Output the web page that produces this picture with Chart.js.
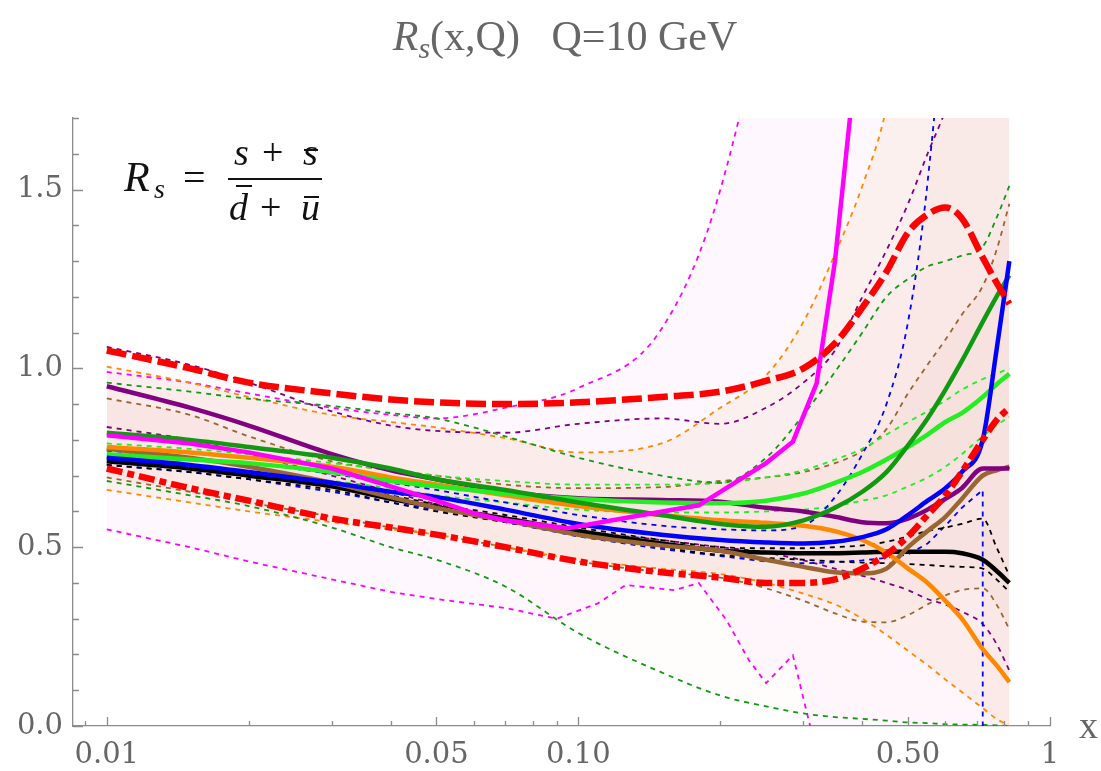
<!DOCTYPE html>
<html>
<head>
<meta charset="utf-8">
<script src="https://cdn.jsdelivr.net/npm/chart.js@4"></script>
<style>
  body { margin: 0; background: #fff; }
</style>
</head>
<body>
<canvas id="chart" width="1101" height="771"></canvas>
<script>
// shared x grid
const xs = [0.01, 0.015, 0.02, 0.03, 0.04, 0.05, 0.07, 0.1, 0.15, 0.2, 0.25, 0.3, 0.35, 0.4, 0.45, 0.5, 0.55, 0.6, 0.65, 0.72, 0.77, 0.82];

// red envelope
const redUpper = [1.05, 1.0, 0.96, 0.93, 0.913, 0.905, 0.9, 0.905, 0.92, 0.935, 0.965, 1.0, 1.07, 1.17, 1.27, 1.38, 1.43, 1.45, 1.42, 1.31, 1.24, 1.18];
const redLower = [0.72, 0.665, 0.63, 0.58, 0.555, 0.535, 0.5, 0.46, 0.43, 0.415, 0.4, 0.4, 0.41, 0.44, 0.48, 0.53, 0.59, 0.645, 0.71, 0.8, 0.855, 0.89];

// central curves
const black = [0.74, 0.72, 0.70, 0.67, 0.635, 0.612, 0.58, 0.545, 0.51, 0.49, 0.485, 0.483, 0.483, 0.485, 0.487, 0.487, 0.487, 0.487, 0.483, 0.465, 0.434, 0.40];
const blue = [0.75, 0.73, 0.71, 0.68, 0.655, 0.64, 0.605, 0.565, 0.535, 0.52, 0.513, 0.51, 0.515, 0.528, 0.55, 0.59, 0.63, 0.665, 0.71, 0.80, 1.05, 1.30];
const dkgreen = [0.82, 0.80, 0.78, 0.75, 0.72, 0.69, 0.66, 0.625, 0.59, 0.565, 0.557, 0.575, 0.61, 0.655, 0.71, 0.785, 0.86, 0.94, 1.02, 1.13, 1.20, 1.26];
const lime = [0.76, 0.745, 0.735, 0.71, 0.685, 0.67, 0.65, 0.635, 0.625, 0.623, 0.63, 0.65, 0.68, 0.71, 0.745, 0.78, 0.815, 0.85, 0.875, 0.92, 0.955, 0.985];
const orange = [0.78, 0.765, 0.75, 0.725, 0.695, 0.675, 0.645, 0.615, 0.59, 0.575, 0.568, 0.56, 0.545, 0.52, 0.485, 0.44, 0.40, 0.35, 0.30, 0.215, 0.17, 0.123];
const purple = [0.95, 0.89, 0.84, 0.76, 0.715, 0.69, 0.655, 0.637, 0.632, 0.627, 0.61, 0.60, 0.585, 0.57, 0.567, 0.58, 0.605, 0.635, 0.665, 0.72, 0.72, 0.72];
const brown = [0.775, 0.75, 0.725, 0.68, 0.64, 0.61, 0.575, 0.535, 0.505, 0.49, 0.465, 0.445, 0.43, 0.427, 0.44, 0.50, 0.545, 0.585, 0.635, 0.70, 0.715, 0.725];
const magentaX = [0.01, 0.015, 0.02, 0.03, 0.04, 0.05, 0.06, 0.07, 0.095, 0.13, 0.18, 0.25, 0.285, 0.32, 0.35, 0.38];
const magenta = [0.813, 0.79, 0.765, 0.72, 0.67, 0.63, 0.595, 0.575, 0.553, 0.585, 0.617, 0.735, 0.795, 0.958, 1.30, 1.75];

// error bands (upper / lower)
const blackHi = [0.75, 0.73, 0.71, 0.68, 0.645, 0.62, 0.59, 0.555, 0.52, 0.50, 0.497, 0.497, 0.50, 0.505, 0.515, 0.53, 0.545, 0.555, 0.565, 0.58, 0.50, 0.42];
const blackLo = [0.73, 0.71, 0.69, 0.66, 0.625, 0.60, 0.57, 0.535, 0.50, 0.478, 0.47, 0.465, 0.46, 0.457, 0.455, 0.453, 0.45, 0.447, 0.445, 0.44, 0.41, 0.375];
const blueHi = [0.77, 0.75, 0.735, 0.705, 0.68, 0.66, 0.625, 0.59, 0.56, 0.55, 0.547, 0.56, 0.64, 0.76, 0.90, 1.13, 1.52, 2.1, 3, 3, 3, 3];
const blueLoX = [0.01, 0.015, 0.02, 0.03, 0.04, 0.05, 0.07, 0.1, 0.15, 0.2, 0.25, 0.3, 0.35, 0.4, 0.45, 0.5, 0.55, 0.6, 0.65, 0.72, 0.7201, 0.82];
const blueLo = [0.73, 0.71, 0.69, 0.655, 0.625, 0.605, 0.57, 0.53, 0.495, 0.475, 0.46, 0.455, 0.458, 0.463, 0.47, 0.48, 0.51, 0.56, 0.61, 0.66, -0.1, -0.1];
const dkgreenHi = [0.96, 0.935, 0.915, 0.895, 0.875, 0.86, 0.81, 0.75, 0.70, 0.68, 0.75, 0.87, 0.99, 1.10, 1.20, 1.25, 1.285, 1.30, 1.315, 1.34, 1.42, 1.51];
const dkgreenLo = [0.685, 0.645, 0.615, 0.555, 0.50, 0.465, 0.39, 0.26, 0.15, 0.085, 0.055, 0.035, 0.025, 0.02, 0.015, 0.01, 0.008, 0.005, 0.004, 0.003, 0.002, 0.0];
const limeHi = [0.79, 0.775, 0.76, 0.735, 0.715, 0.70, 0.685, 0.675, 0.675, 0.68, 0.695, 0.715, 0.745, 0.775, 0.815, 0.85, 0.88, 0.91, 0.94, 0.97, 0.985, 1.0];
const limeLo = [0.74, 0.725, 0.71, 0.685, 0.665, 0.645, 0.625, 0.605, 0.597, 0.597, 0.60, 0.605, 0.615, 0.63, 0.645, 0.67, 0.695, 0.725, 0.76, 0.81, 0.84, 0.865];
const orangeHi = [1.005, 0.96, 0.92, 0.87, 0.85, 0.835, 0.805, 0.765, 0.79, 0.89, 0.98, 1.13, 1.32, 1.51, 1.73, 2.1, 3, 3, 3, 3, 3, 3];
const orangeLo = [0.66, 0.625, 0.60, 0.57, 0.55, 0.535, 0.50, 0.465, 0.44, 0.425, 0.40, 0.37, 0.34, 0.30, 0.255, 0.21, 0.17, 0.13, 0.095, 0.05, 0.02, 0.0];
const purpleHi = [1.06, 1.01, 0.96, 0.88, 0.84, 0.825, 0.82, 0.845, 0.86, 0.845, 0.89, 0.96, 1.05, 1.2, 1.33, 1.46, 1.6, 1.72, 1.85, 2.5, 3, 3];
const purpleLo = [0.836, 0.80, 0.76, 0.70, 0.655, 0.62, 0.575, 0.545, 0.52, 0.50, 0.485, 0.463, 0.44, 0.42, 0.40, 0.38, 0.355, 0.34, 0.32, 0.285, 0.23, 0.155];
const brownHi = [0.916, 0.87, 0.81, 0.74, 0.715, 0.70, 0.675, 0.665, 0.668, 0.685, 0.695, 0.71, 0.735, 0.77, 0.83, 0.93, 1.01, 1.08, 1.15, 1.23, 1.33, 1.46];
const brownLo = [0.695, 0.655, 0.625, 0.585, 0.555, 0.535, 0.50, 0.46, 0.43, 0.415, 0.385, 0.35, 0.315, 0.292, 0.29, 0.31, 0.34, 0.365, 0.38, 0.385, 0.34, 0.27];
const magentaHi = [0.99, 0.96, 0.93, 0.89, 0.87, 0.86, 0.89, 0.945, 1.11, 1.50, 2.1, 3, 3, 3, 3, 3, 3, 3, 3, 3, 3, 3];
const magentaLoX = [0.01, 0.015, 0.02, 0.03, 0.04, 0.05, 0.07, 0.09, 0.11, 0.126, 0.16, 0.18, 0.206, 0.23, 0.25, 0.285, 0.31, 0.33, 0.82];
const magentaLo = [0.55, 0.50, 0.46, 0.41, 0.375, 0.355, 0.33, 0.30, 0.343, 0.394, 0.38, 0.40, 0.296, 0.184, 0.12, 0.198, 0.0, -0.3, -0.3];

// axis ticks
const xTickVals = [0.01, 0.05, 0.1, 0.5, 1];
const xTickLabels = ['0.01', '0.05', '0.10', '0.50', '1'];
const yTickVals = [0, 0.5, 1.0, 1.5];

const xMin = 0.00848;
const C = {
    red: '#ff0000', black: '#000000', blue: '#0000ff', dkgreen: '#119911',
    lime: '#22ee22', orange: '#ff8800', purple: '#800080', brown: '#996633', magenta: '#ff00ff'
};

const datasets = [];
function pts(xArr, yArr) {
    return xArr.map((x, i) => ({ x: x, y: yArr[i] }));
}
function addLine(xArr, yArr, color, width, dash, extra) {
    datasets.push(Object.assign({
        data: pts(xArr, yArr),
        borderColor: color,
        borderWidth: width,
        borderDash: dash,
        borderCapStyle: 'butt',
        pointRadius: 0,
        fill: false,
        cubicInterpolationMode: 'monotone',
        clip: 0
    }, extra || {}));
}
function addBand(hiX, hi, loX, lo, color, fillColor, straight) {
    const ex = straight ? { cubicInterpolationMode: 'default', tension: 0 } : {};
    addLine(hiX, hi, color, 1.8, [5, 5], { fill: '+1', backgroundColor: fillColor });
    addLine(loX, lo, color, 1.8, [5, 5], ex);
}

// top of the stack first
addLine(xs, redUpper, C.red, 6.5, [20, 6]);
addLine(xs, redLower, C.red, 6.5, [16, 5, 7, 5]);
addLine(magentaX, magenta, C.magenta, 4.5, [], { cubicInterpolationMode: 'default', tension: 0 });
addLine(xs, blue, C.blue, 4.5, []);
addLine(xs, dkgreen, C.dkgreen, 4.5, []);
addLine(xs, lime, C.lime, 4.5, []);
addLine(xs, orange, C.orange, 4.5, []);
addLine(xs, purple, C.purple, 4.5, []);
addLine(xs, brown, C.brown, 4.5, []);
addLine(xs, black, C.black, 4.5, []);

addBand(xs, blackHi, xs, blackLo, C.black, 'rgba(120,80,60,0.015)');
addBand(xs, blueHi, blueLoX, blueLo, C.blue, 'rgba(210,130,80,0.035)', true);
addBand(xs, dkgreenHi, xs, dkgreenLo, C.dkgreen, 'rgba(230,120,100,0.02)');
addBand(xs, limeHi, xs, limeLo, C.lime, 'rgba(200,200,80,0.02)');
addBand(xs, orangeHi, xs, orangeLo, C.orange, 'rgba(225,130,60,0.075)');
addBand(xs, purpleHi, xs, purpleLo, C.purple, 'rgba(128,0,128,0.012)');
addBand(xs, brownHi, xs, brownLo, C.brown, 'rgba(180,110,50,0.04)');
addBand(xs, magentaHi, magentaLoX, magentaLo, C.magenta, 'rgba(235,0,235,0.028)', true);

const axisColor = '#8c8c8c';
const tickFont = { family: '"DejaVu Serif"', size: 29 };

// tick marks point into the plot, like the original
const tickMarks = {
    id: 'tickMarks',
    afterDatasetsDraw(chart) {
        const ctx = chart.ctx;
        const a = chart.chartArea;
        const x = chart.scales.x, y = chart.scales.y;
        ctx.save();
        ctx.strokeStyle = axisColor;
        ctx.lineWidth = 1.3;
        ctx.beginPath();
        [0.001, 0.01, 0.1].forEach(d => {
            for (let k = 1; k <= 9; k++) {
                const v = k * d;
                if (v < xMin || v > 1.0001) continue;
                const px = Math.round(x.getPixelForValue(v)) + 0.5;
                const major = xTickVals.some(t => Math.abs(t - v) < 1e-9);
                ctx.moveTo(px, a.bottom);
                ctx.lineTo(px, a.bottom - (major ? 9 : 5));
            }
        });
        const p1 = Math.round(x.getPixelForValue(1)) + 0.5;
        ctx.moveTo(p1, a.bottom);
        ctx.lineTo(p1, a.bottom - 9);
        for (let i = 0; i <= 17; i++) {
            const py = Math.round(y.getPixelForValue(i / 10)) + 0.5;
            ctx.moveTo(a.left, py);
            ctx.lineTo(a.left + (i % 5 === 0 ? 10 : 6), py);
        }
        ctx.stroke();
        ctx.restore();
    }
};

// title, formula and x label
const labels = {
    id: 'labels',
    afterDraw(chart) {
        const ctx = chart.ctx;
        ctx.save();
        ctx.textBaseline = 'alphabetic';

        // title
        ctx.fillStyle = '#666';
        const parts = [
            ['R', 'italic 42px "Liberation Serif"', 0],
            ['s', 'italic 30px "Liberation Serif"', 8],
            ['(x,Q)   Q=10 GeV', '42px "Liberation Serif"', 0]
        ];
        let total = 0;
        parts.forEach(p => { ctx.font = p[1]; total += ctx.measureText(p[0]).width; });
        let tx = 565 - total / 2;
        parts.forEach(p => {
            ctx.font = p[1];
            ctx.fillText(p[0], tx, 50 + p[2]);
            tx += ctx.measureText(p[0]).width;
        });

        // formula
        ctx.fillStyle = '#111';
        ctx.font = 'italic 42px "Liberation Serif"';
        ctx.fillText('R', 124, 191);
        ctx.font = 'italic 28px "Liberation Serif"';
        ctx.fillText('s', 154, 198);
        ctx.font = '40px "Liberation Serif"';
        ctx.fillText('=', 183, 191);
        ctx.fillRect(228, 178, 94, 2);
        ctx.font = 'italic 38px "Liberation Serif"';
        ctx.fillText('s', 234, 165);
        ctx.fillText('s', 303, 165);
        ctx.fillText('d', 229, 220);
        ctx.fillText('u', 301, 220);
        ctx.font = '38px "Liberation Serif"';
        ctx.fillText('+', 262, 165);
        ctx.fillText('+', 260, 220);
        ctx.fillRect(304, 149, 14, 2);
        ctx.fillRect(236, 185, 16, 2);
        ctx.fillRect(304, 196, 15, 2);

        // axis label
        ctx.fillStyle = '#666';
        ctx.font = '38px "Liberation Serif"';
        ctx.fillText('x', 1079, 738);
        ctx.restore();
    }
};

new Chart(document.getElementById('chart'), {
    type: 'line',
    data: { datasets: datasets },
    options: {
        responsive: false,
        animation: false,
        devicePixelRatio: 1,
        parsing: false,
        layout: { padding: { left: 0, right: 51, top: 118, bottom: 0 } },
        plugins: {
            legend: { display: false },
            tooltip: { enabled: false },
            filler: { drawTime: 'beforeDatasetsDraw' }
        },
        scales: {
            x: {
                type: 'logarithmic',
                min: xMin,
                max: 1,
                afterBuildTicks: s => { s.ticks = xTickVals.map(v => ({ value: v })); },
                afterFit: s => { s.height = 45; },
                ticks: {
                    callback: (v, i) => xTickLabels[i],
                    font: tickFont,
                    color: '#666',
                    padding: 12,
                    maxRotation: 0,
                    autoSkip: false
                },
                grid: { drawOnChartArea: false, drawTicks: false },
                border: { color: axisColor, width: 1.3 }
            },
            y: {
                min: 0,
                max: 1.7,
                afterBuildTicks: s => { s.ticks = yTickVals.map(v => ({ value: v })); },
                afterFit: s => { s.width = 73; },
                ticks: {
                    callback: v => v.toFixed(1),
                    font: tickFont,
                    color: '#666',
                    padding: 10
                },
                grid: { drawOnChartArea: false, drawTicks: false },
                border: { color: axisColor, width: 1.3 }
            }
        }
    },
    plugins: [tickMarks, labels]
});
</script>
</body>
</html>
